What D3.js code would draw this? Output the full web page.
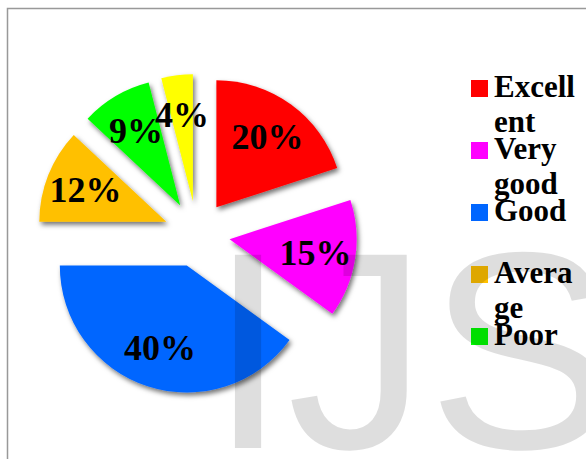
<!DOCTYPE html>
<html>
<head>
<meta charset="utf-8">
<script src="https://cdn.jsdelivr.net/npm/d3@7"></script>
<style>
  html, body { margin: 0; padding: 0; background: #fff; }
  svg { display: block; }
</style>
</head>
<body>
<svg id="chart" width="586" height="459"></svg>
<script>
// DATA
const categories = ["Excellent", "Very good", "Good", "Average", "Poor", "Very poor"];
const shares = [20, 15, 40, 12, 9, 4];
const colors = ["#ff0000", "#ff00ff", "#0066ff", "#ffc000", "#00ff00", "#ffff00"];
// legend text as it wraps in the narrow legend box (last entry is cut off)
const legendLines = [["Excell", "ent"], ["Very", "good"], ["Good"], ["Avera", "ge"], ["Poor"]];

// CANVAS SETUP
const svg = d3.select("#chart");
const cx = 197, cy = 234,
  radius = 127,
  explode = 33,
  labelRadius = 87;

const defs = svg.append("defs");
defs.append("filter")
  .attr("id", "shadow")
  .attr("x", "-20%").attr("y", "-20%")
  .attr("width", "140%").attr("height", "140%")
  .append("feDropShadow")
  .attr("dx", 2).attr("dy", 3)
  .attr("stdDeviation", 2.5)
  .attr("flood-color", "#000")
  .attr("flood-opacity", 0.55);

// plot area border (runs off the right and bottom edges)
svg.append("rect")
  .attr("x", 7.5).attr("y", 8.5)
  .attr("width", 700).attr("height", 600)
  .attr("fill", "#fff")
  .attr("stroke", "#999")
  .attr("stroke-width", 1.5);

// PIE
const pie = d3.pie().sort(null).value((d) => d.value);
const arcs = pie(categories.map((c, i) => ({ key: c, value: shares[i], color: colors[i] })));

const arc = d3.arc().innerRadius(0).outerRadius(radius);
const labelArc = d3.arc().innerRadius(labelRadius).outerRadius(labelRadius);

const g = svg.append("g").attr("transform", `translate(${cx},${cy})`);

const slices = g.selectAll("g.slice")
  .data(arcs)
  .join("g")
  .attr("class", "slice")
  .attr("transform", (d) => {
    const a = (d.startAngle + d.endAngle) / 2;
    return `translate(${Math.sin(a) * explode},${-Math.cos(a) * explode})`;
  });

slices.append("path")
  .attr("d", arc)
  .attr("fill", (d) => d.data.color)
  .attr("filter", "url(#shadow)");

slices.append("text")
  .attr("transform", (d) => `translate(${labelArc.centroid(d)})`)
  .attr("text-anchor", "middle")
  .attr("dominant-baseline", "central")
  .style("font-family", "'Liberation Serif', 'Times New Roman', serif")
  .style("font-weight", "bold")
  .style("font-size", "36px")
  .attr("fill", "#000")
  .text((d) => d.data.value + "%");

// LEGEND
const legendY = d3.scaleLinear().domain([0, 1]).range([80, 142]);
const legend = svg.append("g")
  .selectAll("g")
  .data(legendLines)
  .join("g")
  .attr("transform", (d, i) => `translate(471,${legendY(i)})`);

legend.append("rect")
  .attr("width", 17).attr("height", 17)
  .attr("fill", (d, i) => colors[i]);

legend.append("text")
  .attr("x", 23)
  .attr("y", 17)
  .style("font-family", "'Liberation Serif', 'Times New Roman', serif")
  .style("font-weight", "bold")
  .style("font-size", "31px")
  .attr("fill", "#000")
  .selectAll("tspan")
  .data((d) => d)
  .join("tspan")
  .attr("x", 23)
  .attr("dy", (d, i) => (i === 0 ? 0 : 35))
  .text((d) => d);

// WATERMARK
svg.append("text")
  .attr("x", 209)
  .attr("y", 448)
  .style("font-family", "'Liberation Sans', Arial, sans-serif")
  .style("font-size", "281px")
  .attr("fill", "#000")
  .attr("fill-opacity", 0.13)
  .text("IJS");
</script>
</body>
</html>
